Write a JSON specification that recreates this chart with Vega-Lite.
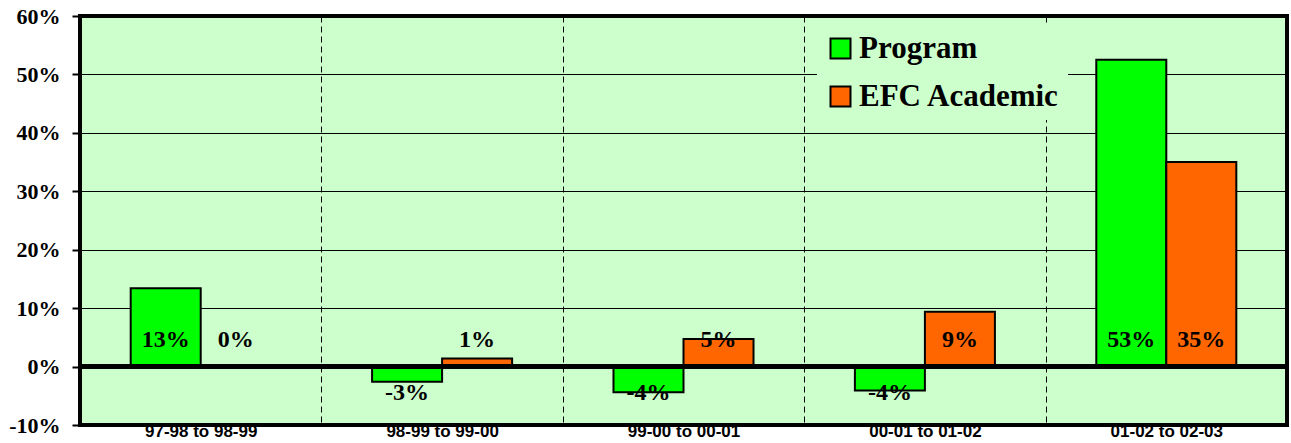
{
  "$schema": "https://vega.github.io/schema/vega-lite/v6.json",
  "width": 1207,
  "height": 409,
  "autosize": {"type": "none"},
  "padding": {"left": 80, "top": 16, "right": 4, "bottom": 18},
  "background": "white",
  "config": {"view": {"fill": "#CCFFCC", "stroke": "black", "strokeWidth": 4}},
  "data": {
    "values": [
      {"period": "97-98 to 98-99", "series": "Program", "value": 13.4},
      {"period": "97-98 to 98-99", "series": "EFC Academic", "value": 0},
      {"period": "98-99 to 99-00", "series": "Program", "value": -2.6},
      {"period": "98-99 to 99-00", "series": "EFC Academic", "value": 1.4},
      {"period": "99-00 to 00-01", "series": "Program", "value": -4.4},
      {"period": "99-00 to 00-01", "series": "EFC Academic", "value": 4.7},
      {"period": "00-01 to 01-02", "series": "Program", "value": -4.1},
      {"period": "00-01 to 01-02", "series": "EFC Academic", "value": 9.4},
      {"period": "01-02 to 02-03", "series": "Program", "value": 52.5},
      {"period": "01-02 to 02-03", "series": "EFC Academic", "value": 35.0}
    ]
  },
  "transform": [
    {"calculate": "round(datum.value) + '%'", "as": "label"}
  ],
  "layer": [
    {
      "mark": {"type": "bar", "stroke": "black", "strokeWidth": 2},
      "encoding": {
        "x": {
          "field": "period", "type": "nominal", "sort": null,
          "scale": {"paddingInner": 0, "paddingOuter": 0},
          "axis": {
            "title": null, "labelAngle": 0, "ticks": false, "domain": false,
            "labelFont": "Liberation Sans", "labelFontWeight": "bold", "labelFontSize": 17,
            "labelColor": "black", "labelPadding": -2,
            "grid": true, "gridColor": "black", "gridWidth": 1, "gridDash": [6, 4],
            "gridOpacity": 1, "tickBand": "extent"
          }
        },
        "xOffset": {
          "field": "series", "type": "nominal", "sort": ["Program", "EFC Academic"],
          "scale": {"paddingInner": 0, "paddingOuter": 0.724}
        },
        "y": {
          "field": "value", "type": "quantitative",
          "scale": {"domain": [-10, 60], "nice": false, "zero": false},
          "axis": {
            "title": null, "values": [-10, 0, 10, 20, 30, 40, 50, 60],
            "labelExpr": "datum.value + '%'",
            "labelFont": "Liberation Serif", "labelFontWeight": "bold", "labelFontSize": 22,
            "labelColor": "black", "tickColor": "black", "tickSize": 8, "tickWidth": 2,
            "labelPadding": 12, "domain": false,
            "grid": true, "gridColor": "black", "gridWidth": 1, "gridOpacity": 1
          }
        },
        "color": {
          "field": "series", "type": "nominal",
          "scale": {"domain": ["Program", "EFC Academic"], "range": ["#00FF00", "#FF6600"]},
          "legend": {
            "title": null, "orient": "none", "legendX": 737, "legendY": 9,
            "fillColor": "#CCFFCC", "padding": 8,
            "symbolType": "square", "symbolSize": 400, "symbolStrokeColor": "black",
            "symbolStrokeWidth": 2, "symbolOpacity": 1,
            "labelFont": "Liberation Serif", "labelFontWeight": "bold", "labelFontSize": 31,
            "labelColor": "black", "labelOffset": 3, "rowPadding": 16, "labelLimit": 400
          }
        }
      }
    },
    {
      "mark": {"type": "rule", "color": "black", "strokeWidth": 5},
      "encoding": {"y": {"datum": 0}}
    },
    {
      "transform": [{"filter": "datum.value >= 0"}],
      "mark": {"type": "text", "font": "Liberation Serif", "fontWeight": "bold", "fontSize": 24, "color": "black", "baseline": "middle", "dy": -27},
      "encoding": {
        "x": {"field": "period", "type": "nominal", "sort": null},
        "xOffset": {"field": "series", "type": "nominal", "sort": ["Program", "EFC Academic"]},
        "y": {"datum": 0},
        "text": {"field": "label"}
      }
    },
    {
      "transform": [{"filter": "datum.value < 0"}],
      "mark": {"type": "text", "font": "Liberation Serif", "fontWeight": "bold", "fontSize": 24, "color": "black", "baseline": "middle", "dy": 26},
      "encoding": {
        "x": {"field": "period", "type": "nominal", "sort": null},
        "xOffset": {"field": "series", "type": "nominal", "sort": ["Program", "EFC Academic"]},
        "y": {"datum": 0},
        "text": {"field": "label"}
      }
    }
  ]
}
